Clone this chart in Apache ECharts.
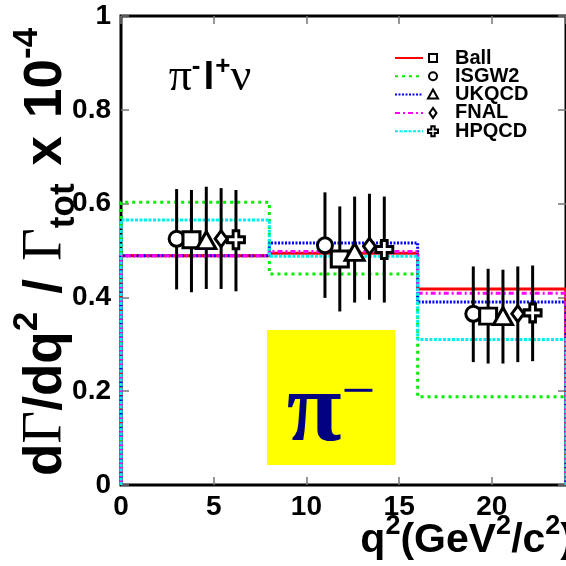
<!DOCTYPE html>
<html>
<head>
<meta charset="utf-8">
<script src="https://cdn.jsdelivr.net/npm/echarts@6/dist/echarts.min.js"></script>
<style>
  html, body { margin: 0; padding: 0; background: #fff; }
  #chart { width: 566px; height: 566px; }
</style>
</head>
<body>
<div id="chart"></div>
<script>
// q^2 bin edges (GeV^2/c^2) of the model histograms
const binEdges = [0, 8, 16, 24];

// Model predictions per q^2 bin (x 10^-4)
const ballRate  = [0.489, 0.494, 0.418];
const isgw2Rate = [0.603, 0.450, 0.188];
const ukqcdRate = [0.489, 0.516, 0.390];
const fnalRate  = [0.489, 0.498, 0.409];
const hpqcdRate = [0.565, 0.488, 0.310];

// Measured partial rates, unfolded with each form-factor model
const isgw2Q    = [3.0, 11.0, 19.0];
const isgw2Pts  = [0.525, 0.511, 0.365];
const isgw2Low  = [0.417, 0.399, 0.262];
const isgw2High = [0.631, 0.624, 0.466];

const ballQ    = [3.8, 11.8, 19.8];
const ballPts  = [0.523, 0.482, 0.360];
const ballLow  = [0.411, 0.370, 0.259];
const ballHigh = [0.629, 0.594, 0.461];

const ukqcdQ    = [4.6, 12.6, 20.6];
const ukqcdPts  = [0.522, 0.497, 0.360];
const ukqcdLow  = [0.418, 0.389, 0.259];
const ukqcdHigh = [0.636, 0.615, 0.459];

const fnalQ    = [5.4, 13.4, 21.4];
const fnalPts  = [0.525, 0.509, 0.365];
const fnalLow  = [0.418, 0.395, 0.262];
const fnalHigh = [0.633, 0.621, 0.466];

const hpqcdQ    = [6.2, 14.2, 22.2];
const hpqcdPts  = [0.523, 0.502, 0.367];
const hpqcdLow  = [0.413, 0.389, 0.264];
const hpqcdHigh = [0.629, 0.615, 0.468];

// Axis ticks
const xTickValues = [0, 5, 10, 15, 20];
const yTickValues = [0, 0.2, 0.4, 0.6, 0.8, 1];

const SANS = 'Liberation Sans, Arial, Helvetica, sans-serif';
const SERIF = 'Liberation Serif, Times New Roman, serif';
const CROSS = 'path://M3,0 L6,0 L6,3 L9,3 L9,6 L6,6 L6,9 L3,9 L3,6 L0,6 L0,3 L3,3 Z';

const models = [
  { name: 'Ball',   rate: ballRate,  q: ballQ,  pts: ballPts,  lo: ballLow,  hi: ballHigh,
    color: '#ff0000', dash: 'solid', width: 3, symbol: 'rect', size: [17, 16] },
  { name: 'ISGW2',  rate: isgw2Rate, q: isgw2Q, pts: isgw2Pts, lo: isgw2Low, hi: isgw2High,
    color: '#00f000', dash: [3, 4], width: 3, symbol: 'circle', size: 15 },
  { name: 'UKQCD',  rate: ukqcdRate, q: ukqcdQ, pts: ukqcdPts, lo: ukqcdLow, hi: ukqcdHigh,
    color: '#0000ff', dash: [2, 1.5], width: 3, symbol: 'triangle', size: [19, 17] },
  { name: 'FNAL',   rate: fnalRate,  q: fnalQ,  pts: fnalPts,  lo: fnalLow,  hi: fnalHigh,
    color: '#ff00ff', dash: [5, 3, 2, 3], width: 3, symbol: 'diamond', size: [12, 16] },
  { name: 'HPQCD',  rate: hpqcdRate, q: hpqcdQ, pts: hpqcdPts, lo: hpqcdLow, hi: hpqcdHigh,
    color: '#00f0f0', dash: [3, 1.5], width: 3, symbol: CROSS, size: [17, 18] }
];

// Histogram outline: rise at the first edge, one plateau per bin, drop at the last edge
function stepPoints(edges, vals) {
  const pts = [[edges[0], 0]];
  vals.forEach((v, i) => pts.push([edges[i], v]));
  pts.push([edges[edges.length - 1], vals[vals.length - 1]]);
  pts.push([edges[edges.length - 1], 0]);
  return pts;
}

const series = [];
models.forEach(m => {
  series.push({
    type: 'line', name: m.name + ' model', step: 'end', symbol: 'none', z: 2,
    data: stepPoints(binEdges, m.rate),
    lineStyle: { color: m.color, width: m.width, type: m.dash },
    animation: false
  });
});

// Drawing order of the measurements inside each bin
const pointOrder = [1, 0, 2, 3, 4];
pointOrder.forEach(k => {
  const m = models[k];
  series.push({
    type: 'custom', z: 5, animation: false,
    data: m.q.map((q, i) => [q, m.lo[i], m.hi[i]]),
    renderItem: (params, api) => {
      const a = api.coord([api.value(0), api.value(1)]);
      const b = api.coord([api.value(0), api.value(2)]);
      return { type: 'line', shape: { x1: a[0], y1: a[1], x2: b[0], y2: b[1] },
               style: { stroke: '#000', lineWidth: 3 } };
    }
  });
});
pointOrder.forEach(k => {
  const m = models[k];
  series.push({
    type: 'scatter', z: 6, animation: false,
    symbol: m.symbol, symbolSize: m.size,
    data: m.q.map((q, i) => [q, m.pts[i]]),
    itemStyle: { color: '#fff', borderColor: '#000', borderWidth: 3, opacity: 1 }
  });
});

// Legend block (line sample, marker, label)
const legendX = 395, legendY0 = 58, legendDy = 18.3;
function legendMarker(sym, cx, cy) {
  const st = { fill: '#fff', stroke: '#000', lineWidth: 2 };
  if (sym === 'rect') return { type: 'rect', shape: { x: cx - 4, y: cy - 4, width: 8, height: 8 }, style: st };
  if (sym === 'circle') return { type: 'circle', shape: { cx: cx, cy: cy, r: 4 }, style: st };
  if (sym === 'triangle') return { type: 'polygon', shape: { points: [[cx, cy - 5], [cx + 5, cy + 4], [cx - 5, cy + 4]] }, style: st };
  if (sym === 'diamond') return { type: 'polygon', shape: { points: [[cx, cy - 5], [cx + 3.5, cy], [cx, cy + 5], [cx - 3.5, cy]] }, style: st };
  return { type: 'polygon', shape: { points: [[cx - 1.7, cy - 5], [cx + 1.7, cy - 5], [cx + 1.7, cy - 1.7], [cx + 5, cy - 1.7], [cx + 5, cy + 1.7], [cx + 1.7, cy + 1.7], [cx + 1.7, cy + 5], [cx - 1.7, cy + 5], [cx - 1.7, cy + 1.7], [cx - 5, cy + 1.7], [cx - 5, cy - 1.7], [cx - 1.7, cy - 1.7]] }, style: st };
}
const graphics = [];
models.forEach((m, i) => {
  const y = legendY0 + i * legendDy;
  graphics.push({ type: 'line', z: 10, shape: { x1: legendX, y1: y, x2: legendX + 28, y2: y },
    style: { stroke: m.color, lineWidth: 2, lineDash: m.dash === 'solid' ? null : m.dash } });
  graphics.push(Object.assign({ z: 10 }, legendMarker(m.symbol === CROSS ? 'cross' : m.symbol, legendX + 38, y)));
  graphics.push({ type: 'text', z: 10, x: legendX + 60, y: y,
    style: { text: m.name, font: 'bold 20px ' + SANS, fill: '#000', verticalAlign: 'middle', align: 'left' } });
});

// Decay-mode label
graphics.push({ type: 'text', z: 10, x: 210, y: 78,
  style: {
    text: '{g|π}{sup|-}{b|l}{sup|+}{g|ν}', align: 'center', verticalAlign: 'middle',
    rich: {
      g: { fontFamily: SERIF, fontSize: 46, lineHeight: 48, fill: '#000' },
      b: { fontFamily: SANS, fontWeight: 'bold', fontSize: 39, lineHeight: 48, fill: '#000', padding: [0, 1, 0, 3] },
      sup: { fontFamily: SANS, fontWeight: 'bold', fontSize: 26, verticalAlign: 'top', fill: '#000' }
    }
  } });

// Yellow badge with the pion symbol
graphics.push({ type: 'rect', z: 8, shape: { x: 267, y: 330, width: 128, height: 135 }, style: { fill: '#ffff00' } });
graphics.push({ type: 'text', z: 9, x: 331, y: 414,
  style: {
    text: '{p|π}{m|−}', align: 'center', verticalAlign: 'middle',
    rich: {
      p: { fontFamily: SERIF, fontWeight: 'bold', fontSize: 100, lineHeight: 100, fill: '#000080' },
      m: { fontFamily: SERIF, fontSize: 60, lineHeight: 22, verticalAlign: 'top', fill: '#000080' }
    }
  } });

// Axis titles
graphics.push({ type: 'text', z: 10, x: 46, y: 252, rotation: Math.PI / 2,
  style: {
    text: '{b|d}{g|Γ}{b|/dq}{sup|2}{s|/}{g|Γ}{sub|tot}{s|x}{b|10}{sup|-4}',
    align: 'center', verticalAlign: 'middle',
    rich: {
      b: { fontFamily: SANS, fontWeight: 'bold', fontSize: 53, lineHeight: 72, fill: '#000' },
      s: { fontFamily: SANS, fontWeight: 'bold', fontSize: 53, lineHeight: 72, fill: '#000', padding: [0, 18, 0, 18] },
      g: { fontFamily: SERIF, fontSize: 57, lineHeight: 72, fill: '#000' },
      sup: { fontFamily: SANS, fontWeight: 'bold', fontSize: 35, verticalAlign: 'top', fill: '#000' },
      sub: { fontFamily: SANS, fontWeight: 'bold', fontSize: 35, verticalAlign: 'bottom', fill: '#000' }
    }
  } });
graphics.push({ type: 'text', z: 10, x: 574, y: 541,
  style: {
    text: '{b|q}{sup|2}{b|(GeV}{sup|2}{b|/c}{sup|2}{b|)}',
    align: 'right', verticalAlign: 'middle',
    rich: {
      b: { fontFamily: SANS, fontWeight: 'bold', fontSize: 41, lineHeight: 56, fill: '#000' },
      sup: { fontFamily: SANS, fontWeight: 'bold', fontSize: 27, verticalAlign: 'top', fill: '#000' }
    }
  } });

function ticks() {
  return { show: true, inside: true, length: 8, lineStyle: { color: '#777', width: 1.5 } };
}
function hiddenLine() {
  return { show: false, onZero: false };
}
function labelFont() {
  return { fontFamily: SANS, fontWeight: 'bold', fontSize: 28, color: '#000' };
}

const chart = echarts.init(document.getElementById('chart'), null, { renderer: 'canvas' });
chart.setOption({
  animation: false,
  backgroundColor: '#fff',
  grid: { left: 121, top: 16, width: 452, height: 469, show: true, borderColor: '#000', borderWidth: 3, backgroundColor: 'transparent' },
  xAxis: [
    { type: 'value', position: 'bottom', min: binEdges[0], max: binEdges[binEdges.length - 1], interval: 5,
      axisLine: hiddenLine(), axisTick: ticks(), splitLine: { show: false },
      axisLabel: Object.assign({ margin: 8, showMaxLabel: false,
        formatter: v => xTickValues.indexOf(v) >= 0 ? String(v) : '' }, labelFont()) },
    { type: 'value', position: 'top', min: binEdges[0], max: binEdges[binEdges.length - 1], interval: 5,
      axisLine: hiddenLine(), axisTick: ticks(), splitLine: { show: false }, axisLabel: { show: false } }
  ],
  yAxis: [
    { type: 'value', position: 'left', min: 0, max: 1, interval: 0.2,
      axisLine: hiddenLine(), axisTick: ticks(), splitLine: { show: false },
      axisLabel: Object.assign({ margin: 10,
        formatter: v => { const t = yTickValues.find(y => Math.abs(y - v) < 1e-9);
          return t === undefined ? '' : (t === 0 || t === 1 ? String(t) : t.toFixed(1)); } }, labelFont()) },
    { type: 'value', position: 'right', min: 0, max: 1, interval: 0.2,
      axisLine: hiddenLine(), axisTick: ticks(), splitLine: { show: false }, axisLabel: { show: false } }
  ],
  series: series,
  graphic: graphics
});
</script>
</body>
</html>
